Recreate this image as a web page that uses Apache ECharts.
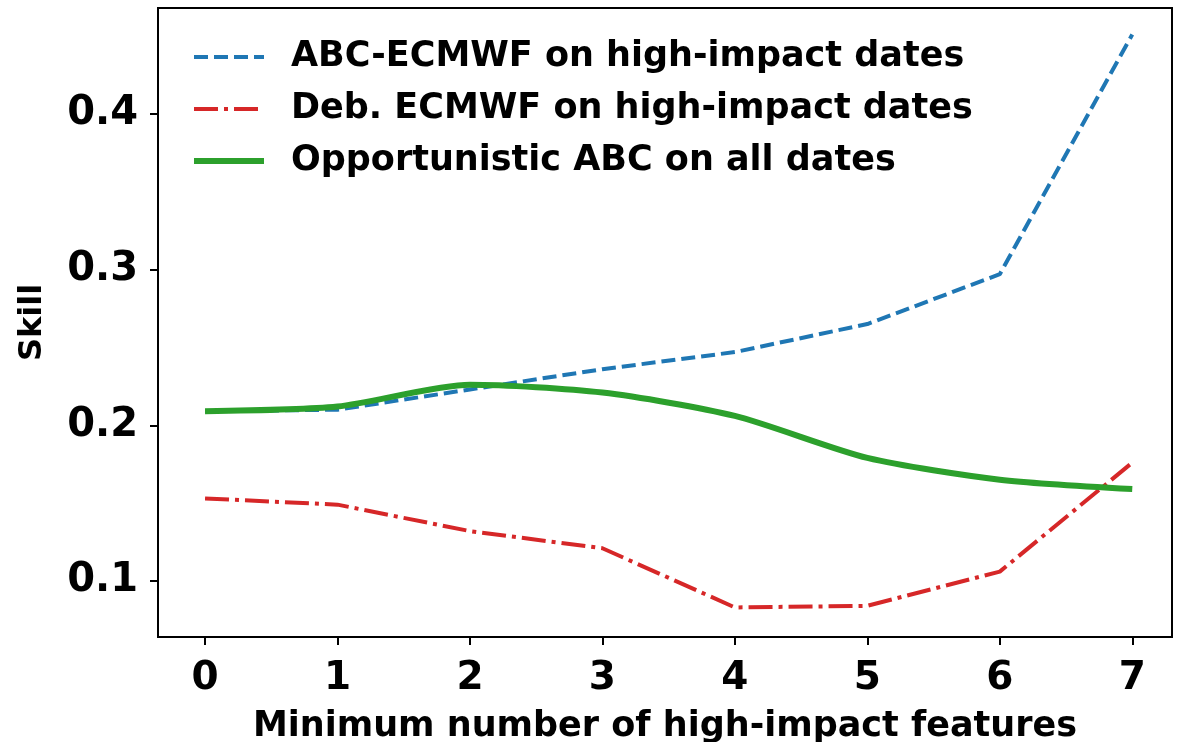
<!DOCTYPE html>
<html>
<head>
<meta charset="utf-8">
<script src="https://cdn.jsdelivr.net/npm/echarts@6/dist/echarts.min.js"></script>
<style>
  html, body { margin: 0; padding: 0; background: #fff; }
  #skill-line { width: 1188px; height: 742px; }
</style>
</head>
<body>
<div id="skill-line"></div>
<script>
// minimum number of high-impact features
const features = [0, 1, 2, 3, 4, 5, 6, 7]
const abcEcmwf = [0.209, 0.210, 0.223, 0.236, 0.247, 0.265, 0.297, 0.451]
const debEcmwf = [0.153, 0.149, 0.132, 0.121, 0.083, 0.084, 0.106, 0.176]
const opportunistic = [0.209, 0.212, 0.226, 0.221, 0.206, 0.179, 0.165, 0.159]
const xTicks = [0, 1, 2, 3, 4, 5, 6, 7]
const yTicks = [0.1, 0.2, 0.3, 0.4]

const font = 'DejaVu Sans'
const pairs = arr => features.map((f, i) => [f, arr[i]])

const blueDash = [14, 6]
const redDashDot = [24, 6, 4, 6]

let myChart = echarts.init(document.getElementById('skill-line'))
myChart.setOption({
  animation: false,
  grid: {
    left: 158,
    right: 16,
    top: 8,
    bottom: 105,
    outerBoundsMode: 'none',
    containLabel: false,
    show: true,
    borderColor: '#000',
    borderWidth: 2
  },
  legend: {
    orient: 'vertical',
    left: 186,
    top: 34,
    itemWidth: 70,
    itemHeight: 14,
    itemGap: 16,
    itemStyle: { opacity: 0 },
    textStyle: {
      fontFamily: font,
      fontWeight: 'bold',
      fontSize: 35,
      lineHeight: 36,
      color: '#000',
      padding: [0, 0, 0, 22]
    },
    data: [
      { name: 'ABC-ECMWF on high-impact dates', lineStyle: { width: 4, type: blueDash } },
      { name: 'Deb. ECMWF on high-impact dates', lineStyle: { width: 4, type: redDashDot } },
      { name: 'Opportunistic ABC on all dates', lineStyle: { width: 6 } }
    ]
  },
  xAxis: {
    type: 'value',
    min: -0.355,
    max: 7.3,
    name: 'Minimum number of high-impact features',
    nameLocation: 'middle',
    nameGap: 72,
    nameTextStyle: { fontFamily: font, fontWeight: 'bold', fontSize: 35, color: '#000' },
    splitLine: { show: false },
    axisLine: { onZero: false, lineStyle: { color: '#000', width: 2 } },
    axisTick: { customValues: xTicks, length: 8, lineStyle: { color: '#000', width: 2 } },
    axisLabel: {
      customValues: xTicks,
      margin: 22,
      fontFamily: font,
      fontWeight: 'bold',
      fontSize: 39,
      color: '#000'
    }
  },
  yAxis: {
    type: 'value',
    min: 0.064,
    max: 0.468,
    name: 'Skill',
    nameLocation: 'middle',
    nameGap: 109,
    nameRotate: 90,
    nameTextStyle: { fontFamily: font, fontWeight: 'bold', fontSize: 32, color: '#000' },
    splitLine: { show: false },
    axisLine: { show: true, onZero: false, lineStyle: { color: '#000', width: 2 } },
    axisTick: { show: true, customValues: yTicks, length: 8, lineStyle: { color: '#000', width: 2 } },
    axisLabel: {
      customValues: yTicks,
      margin: 20,
      fontFamily: font,
      fontWeight: 'bold',
      fontSize: 40,
      color: '#000',
      formatter: v => v.toFixed(1)
    }
  },
  series: [
    {
      name: 'ABC-ECMWF on high-impact dates',
      type: 'line',
      symbol: 'none',
      data: pairs(abcEcmwf),
      lineStyle: { color: '#1f77b4', width: 4, type: blueDash },
      itemStyle: { color: '#1f77b4' }
    },
    {
      name: 'Deb. ECMWF on high-impact dates',
      type: 'line',
      symbol: 'none',
      data: pairs(debEcmwf),
      lineStyle: { color: '#d62728', width: 4, type: redDashDot },
      itemStyle: { color: '#d62728' }
    },
    {
      name: 'Opportunistic ABC on all dates',
      type: 'line',
      symbol: 'none',
      smooth: 0.25,
      data: pairs(opportunistic),
      lineStyle: { color: '#2ca02c', width: 6 },
      itemStyle: { color: '#2ca02c' }
    }
  ]
})
</script>
</body>
</html>
